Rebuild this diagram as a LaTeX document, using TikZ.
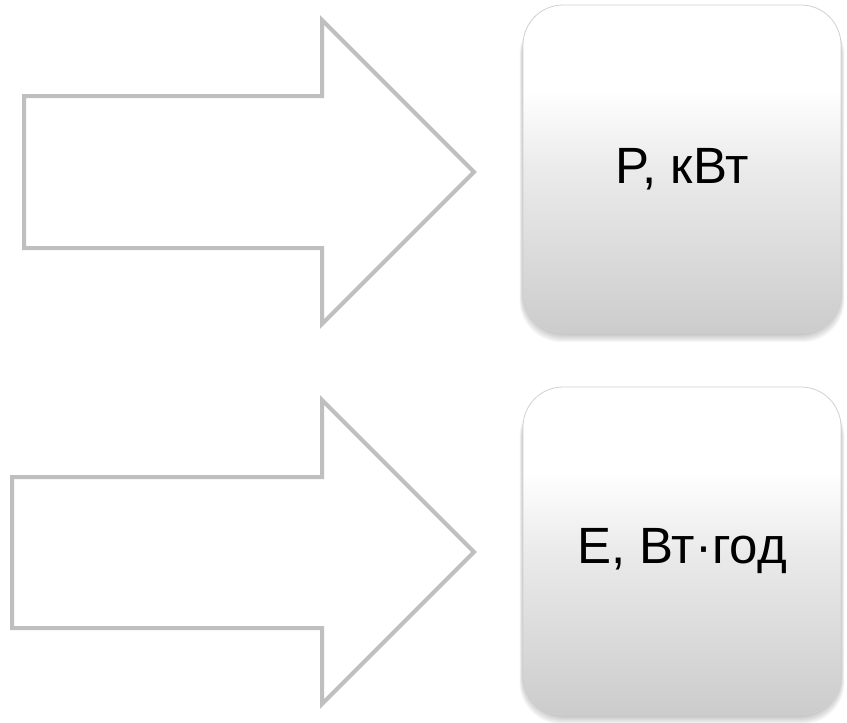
\documentclass[tikz,border=0pt]{standalone}
\usepackage{fontspec}
\setmainfont{Liberation Sans}
\usetikzlibrary{calc}
\pgfdeclarelayer{background}
\pgfsetlayers{background,main}
% white upper half fading to light grey at the bottom
\pgfdeclareverticalshading{boxshade}{100bp}{color(0bp)=(black!20); color(25bp)=(black!20); color(50bp)=(black!8); color(62bp)=(white); color(100bp)=(white)}
\begin{document}
\begin{tikzpicture}[x=1pt,y=-1pt]
\useasboundingbox (0,0) rectangle (847,723);
\tikzset{
  flowarrow/.style={draw=black!25, line width=4pt, fill=white, line join=miter},
  valuebox/.style={rectangle, rounded corners=40pt, shading=boxshade, draw=black!18, line width=0.8pt,
    minimum width=318pt, minimum height=328pt, inner sep=0pt,
    font=\fontsize{51}{56}\selectfont},
  softshadow/.style={fill=black, opacity=0.03, rounded corners=42pt},
}

% block arrows
\draw[flowarrow] (24,96) -- (322,96) -- (322,20) -- (474,172) -- (322,324) -- (322,248) -- (24,248) -- cycle;
\draw[flowarrow] (12,477) -- (322,477) -- (322,400) -- (474,552) -- (322,704) -- (322,628) -- (12,628) -- cycle;

% value boxes
\node[valuebox] (power) at (682,169) {P, кВт};
\node[valuebox] (energy) at (682,551) {E, Вт·год};

% soft shadows under the boxes
\begin{pgfonlayer}{background}
  \foreach \b in {power,energy}{
    \foreach \s in {1,...,8}{
      \fill[softshadow] ($(\b.north west)+(-\s*0.5+1,8)$) rectangle ($(\b.south east)+(\s*0.5-1,\s*1.1)$);
    }
  }
\end{pgfonlayer}
\end{tikzpicture}
\end{document}
